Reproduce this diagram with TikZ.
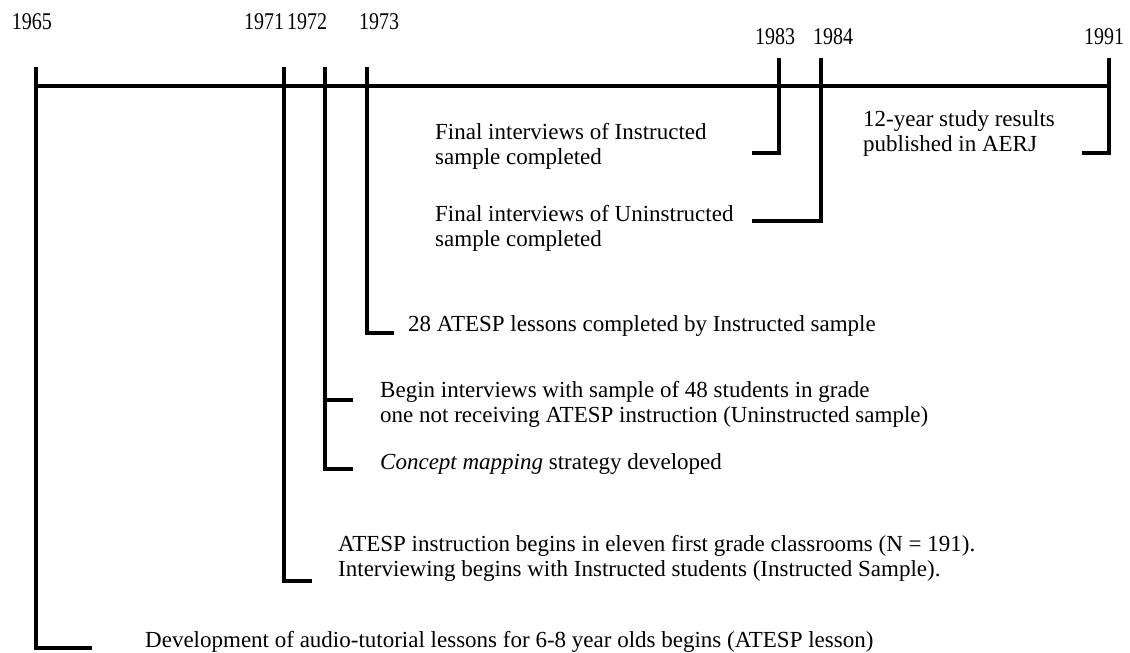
\documentclass[tikz,border=0pt]{standalone}
\usepackage{fontspec}
\setmainfont{Liberation Serif}
\begin{document}
\begin{tikzpicture}[x=1pt,y=-1pt,
  line/.style={line width=3.2pt, line join=miter},
  txt/.style={font=\fontsize{23}{25}\selectfont, inner sep=0pt, anchor=west, align=left},
  yr/.style={font=\fontsize{20}{24}\selectfont, inner sep=0pt, yscale=1.2}]
\useasboundingbox[fill=white] (0,0) rectangle (1130,653);
% year labels
\node[yr] (y65) at (32,22) {1965};
\node[yr] (y71) at (264,22) {1971};
\node[yr] (y72) at (307,22) {1972};
\node[yr] (y73) at (379,22) {1973};
\node[yr] (y83) at (775,37) {1983};
\node[yr] (y84) at (833,37) {1984};
\node[yr] (y91) at (1104,37) {1991};
% tick tops
\coordinate (t65) at (36,67);
\coordinate (t71) at (284,67);
\coordinate (t72) at (325,67);
\coordinate (t73) at (367,67);
\coordinate (t83) at (779,58);
\coordinate (t84) at (821,58);
\coordinate (t91) at (1109,58);
\coordinate (l0) at (36,86);
\coordinate (l1) at (1109,86);
% elbow ends
\coordinate (e65) at (92,648);
\coordinate (e71) at (312,581);
\coordinate (e72a) at (353,400);
\coordinate (e72b) at (353,469);
\coordinate (e73) at (394,333);
\coordinate (e83) at (752,153);
\coordinate (e84) at (752,221);
\coordinate (e91) at (1082,153);
% texts
\node[txt] (n65) at (145,642) {Development of audio-tutorial lessons for 6-8 year olds begins (ATESP lesson)};
\node[txt] (n71) at (338,558) {ATESP instruction begins in eleven first grade classrooms (N = 191).\\Interviewing begins with Instructed students (Instructed Sample).};
\node[txt] (n72a) at (380,404) {Begin interviews with sample of 48 students in grade\\one not receiving ATESP instruction (Uninstructed sample)};
\node[txt] (n72b) at (380,464) {\textit{Concept mapping} strategy developed};
\node[txt] (n73) at (408,326) {28 ATESP lessons completed by Instructed sample};
\node[txt] (n83) at (435,146) {Final interviews of Instructed\\sample completed};
\node[txt] (n84) at (435,228) {Final interviews of Uninstructed\\sample completed};
\node[txt] (n91) at (863,133) {12-year study results\\published in AERJ};
% lines
\draw[line] (l0) -- (l1);
\draw[line] (t65) |- (e65);
\draw[line] (t71) |- (e71);
\draw[line] (t72) |- (e72b);
\draw[line] (e72a) -| (t72);
\draw[line] (t73) |- (e73);
\draw[line] (t83) |- (e83);
\draw[line] (t84) |- (e84);
\draw[line] (t91) |- (e91);
\end{tikzpicture}
\end{document}
